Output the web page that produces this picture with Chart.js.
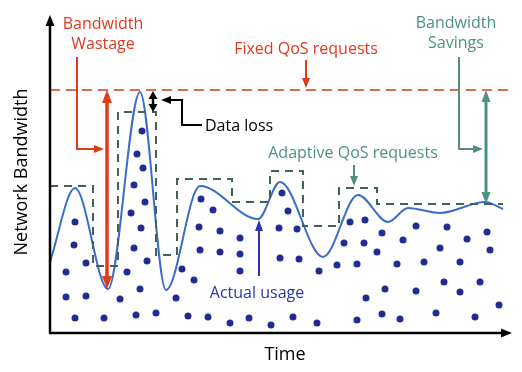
<!DOCTYPE html>
<html>
<head>
<meta charset="utf-8">
<script src="https://cdn.jsdelivr.net/npm/chart.js@4/dist/chart.umd.min.js"></script>
<style>
html,body{margin:0;padding:0;background:#fff;}
#wrap{width:522px;height:372px;position:relative;}
</style>
</head>
<body>
<div id="wrap"><canvas id="c"></canvas></div>
<script>
// time / bandwidth units (arbitrary)
const fixedLevel=242;
const fixedX=[0,462];

const stepX=[0,43,68,106,127,182,220,253,289,327,453];
const stepY=[146,66,220,77,153,130,161,106,144,128,128];

const usageX=[0,25,58,90,116,150,208,230,273,308,338,358,390,435,453];
const usageY=[70,144,43,240,42,146,113,150,75,137,110,124,119,130,123];

const dotX=[25,24,36,16,16,36,25,54,70,92,87,93,84,95,81,91,84,97,77,90,86,106,126,132,144,138,
151,163,149,170,150,170,190,190,190,158,180,199,221,232,238,229,247,230,249,243,269,287,267,
300,315,294,314,327,307,307,316,332,353,347,366,374,335,366,332,350,397,390,410,417,437,440,394,410,430,449,386,425];
const dotY=[110,87,69,60,35,36,14,14,33,201,178,164,147,130,119,104,84,71,60,43,17,19,34,63,52,16,
133,122,105,101,82,80,94,78,61,15,9,14,7,139,121,104,103,74,73,15,61,67,9,
110,112,89,89,80,68,12,34,99,92,68,106,70,43,41,18,13,105,84,70,93,100,82,50,40,50,27,19,15];

const red="#e0391c", green="#4f9084", greenDark="#3f6358", blue="#3a6cc9", navy="#1f2c93", blueText="#2838a8";

// annotation arrows: [x,y] pairs in data units
const wastageBracket=[[27,275],[27,183],[54,183]];
const wastageX=57, wastageLow=43;
const fixedArrow=[[256,272],[256,244]];
const lossX=103;
const lossBracket=[[152,207],[132,207],[132,232],[111,232]];
const adaptiveArrow=[[304,167],[304,146]];
const savingsBracket=[[409,275],[409,183],[433,183]];
const savingsX=436;
const usageArrow=[[209,56],[209,112]];

const labels=[
 {t:"Bandwidth",x:53,y:308,c:red,a:"center"},
 {t:"Wastage",x:53,y:288,c:red,a:"center"},
 {t:"Fixed QoS requests",x:256,y:283,c:red,a:"center"},
 {t:"Data loss",x:155,y:206,c:"#000",a:"left"},
 {t:"Adaptive QoS requests",x:303,y:179,c:green,a:"center"},
 {t:"Bandwidth",x:406,y:309,c:green,a:"center"},
 {t:"Savings",x:406,y:289,c:green,a:"center"},
 {t:"Actual usage",x:207,y:39,c:blueText,a:"center"}
];

function head(ctx,x1,y1,x2,y2,len,w,color){
  const a=Math.atan2(y2-y1,x2-x1);
  ctx.save();
  ctx.fillStyle=color;
  ctx.translate(x2,y2);ctx.rotate(a);
  ctx.beginPath();ctx.moveTo(0,0);ctx.lineTo(-len,-w/2);ctx.lineTo(-len,w/2);ctx.closePath();ctx.fill();
  ctx.restore();
}

function arrow(ctx,pts,color,lw,startHead,endHead,len,w){
  ctx.save();
  ctx.strokeStyle=color;ctx.lineWidth=lw;ctx.setLineDash([]);
  const n=pts.length;
  // shorten ends under heads
  const p=pts.map(q=>q.slice());
  if(endHead){const a=Math.atan2(p[n-1][1]-p[n-2][1],p[n-1][0]-p[n-2][0]);p[n-1][0]-=Math.cos(a)*len*0.8;p[n-1][1]-=Math.sin(a)*len*0.8;}
  if(startHead){const a=Math.atan2(p[0][1]-p[1][1],p[0][0]-p[1][0]);p[0][0]-=Math.cos(a)*len*0.8;p[0][1]-=Math.sin(a)*len*0.8;}
  ctx.beginPath();ctx.moveTo(p[0][0],p[0][1]);
  for(let i=1;i<n;i++) ctx.lineTo(p[i][0],p[i][1]);
  ctx.stroke();
  if(endHead) head(ctx,pts[n-2][0],pts[n-2][1],pts[n-1][0],pts[n-1][1],len,w,color);
  if(startHead) head(ctx,pts[1][0],pts[1][1],pts[0][0],pts[0][1],len,w,color);
  ctx.restore();
}

const decor={
  id:"decor",
  afterDatasetsDraw(chart){
    const ctx=chart.ctx, xs=chart.scales.x, ys=chart.scales.y, ca=chart.chartArea;
    const P=pts=>pts.map(q=>[xs.getPixelForValue(q[0]),ys.getPixelForValue(q[1])]);
    const px=v=>xs.getPixelForValue(v), py=v=>ys.getPixelForValue(v);

    // axes with arrow heads
    arrow(ctx,[[ca.left,ca.bottom+1],[ca.left,ca.top]],"#000",2.5,false,true,11,9);
    arrow(ctx,[[ca.left-1,ca.bottom+1],[ca.right+2,ca.bottom+1]],"#000",2.5,false,true,11,9);

    ctx.save();
    ctx.fillStyle="#000";ctx.font="18px 'Open Sans'";ctx.textAlign="center";ctx.textBaseline="middle";
    ctx.fillText("Time",(ca.left+ca.right)/2+5,355);
    ctx.translate(22,172);ctx.rotate(-Math.PI/2);
    ctx.fillText("Network Bandwidth",0,0);
    ctx.restore();

    // annotations
    arrow(ctx,P(wastageBracket),red,2,false,true,10,8);
    arrow(ctx,[[px(wastageX),py(fixedLevel)],[px(wastageX),py(wastageLow)]],red,3.5,true,true,13,10);
    arrow(ctx,P(fixedArrow),red,2,false,true,10,8);
    arrow(ctx,[[px(lossX),py(fixedLevel)+1],[px(lossX),py(stepY[2])]],"#000",2.5,true,true,8,9);
    arrow(ctx,P(lossBracket),"#000",2,false,true,10,8);
    arrow(ctx,P(adaptiveArrow),green,2,false,true,10,8);
    arrow(ctx,P(savingsBracket),green,2,false,true,10,8);
    arrow(ctx,[[px(savingsX),py(fixedLevel)],[px(savingsX),py(stepY[stepY.length-1])]],green,3,true,true,12,9);
    arrow(ctx,P(usageArrow),blueText,2,false,true,11,8);

    ctx.save();
    ctx.font="16px 'Open Sans'";ctx.textBaseline="middle";
    labels.forEach(l=>{ctx.fillStyle=l.c;ctx.textAlign=l.a;ctx.fillText(l.t,px(l.x),py(l.y));});
    ctx.restore();
  }
};

new Chart(document.getElementById("c"),{
  type:"line",
  data:{datasets:[
    {data:fixedX.map(x=>({x:x,y:fixedLevel})),borderColor:red,borderWidth:1.6,borderDash:[10,6],pointRadius:0,clip:false},
    {data:stepX.map((x,i)=>({x:x,y:stepY[i]})),stepped:"before",borderColor:greenDark,borderWidth:2,borderDash:[8,6],pointRadius:0,clip:false},
    {data:usageX.map((x,i)=>({x:x,y:usageY[i]})),cubicInterpolationMode:"monotone",borderColor:blue,borderWidth:2,pointRadius:0,clip:false},
    {data:dotX.map((x,i)=>({x:x,y:dotY[i]})),showLine:false,pointRadius:3.5,pointBackgroundColor:navy,pointBorderWidth:0,borderColor:navy}
  ]},
  options:{
    responsive:true,maintainAspectRatio:false,animation:false,
    layout:{padding:{left:50,right:12,top:15,bottom:40}},
    plugins:{legend:{display:false},tooltip:{enabled:false}},
    scales:{
      x:{type:"linear",min:0,max:460,display:false},
      y:{type:"linear",min:0,max:317,display:false}
    }
  },
  plugins:[decor]
});
</script>
</body>
</html>
